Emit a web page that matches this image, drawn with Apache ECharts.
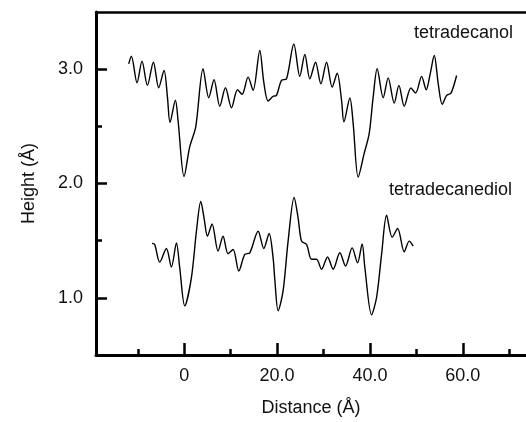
<!DOCTYPE html>
<html>
<head>
<meta charset="utf-8">
<script src="https://cdn.jsdelivr.net/npm/echarts@6/dist/echarts.min.js"></script>
<style>html,body{margin:0;padding:0;background:#fff}#c{width:526px;height:422px}</style>
</head>
<body>
<div id="c"></div>
<script>
// Distance (Å) and Height (Å) for each profile
const tetradecanolX = [-11.96,-11.38,-10.17,-9.09,-7.93,-6.64,-5.50,-4.35,-3.62,-3.06,-1.90,-1.34,-0.04,1.19,2.48,4.05,5.28,6.42,7.65,8.88,10.17,11.47,12.46,13.75,14.83,16.27,17.13,18.06,19.14,19.87,20.95,22.03,23.60,24.89,25.97,27.05,28.28,29.42,30.65,31.85,32.93,33.88,34.38,35.67,36.38,37.46,38.75,39.83,40.69,41.55,42.84,43.92,45.22,46.23,47.37,48.81,49.83,51.12,52.11,52.97,53.84,54.70,55.56,56.51,57.44,58.66];
const tetradecanolY = [3.046,3.113,2.881,3.070,2.858,3.061,2.837,2.989,2.757,2.533,2.728,2.557,2.061,2.322,2.496,3.003,2.750,2.907,2.676,2.837,2.663,2.820,2.780,2.930,2.815,3.163,2.887,2.722,2.763,2.771,2.902,2.916,3.220,2.937,3.128,2.916,3.061,2.872,3.061,2.843,2.965,2.728,2.539,2.748,2.524,2.055,2.263,2.437,2.757,3.003,2.750,2.924,2.704,2.858,2.676,2.835,2.791,2.937,2.820,2.959,3.119,2.872,2.693,2.771,2.791,2.945];
const tetradecanediolX = [-6.94,-6.36,-5.28,-3.84,-2.76,-1.68,-0.97,0.11,1.55,2.63,3.56,4.27,5.00,5.99,7.28,8.36,9.44,10.52,11.75,13.04,14.12,15.91,17.13,18.28,19.14,19.50,20.22,21.29,22.37,23.66,24.53,25.26,26.34,27.41,28.49,29.57,30.86,32.07,33.51,34.74,36.16,37.33,38.32,38.90,40.34,41.42,42.50,43.58,44.78,45.95,47.37,48.45,49.31];
const tetradecanediolY = [1.476,1.467,1.313,1.432,1.270,1.481,1.263,0.930,1.177,1.583,1.843,1.698,1.539,1.646,1.409,1.539,1.385,1.423,1.235,1.380,1.394,1.583,1.432,1.563,1.350,1.163,0.887,1.061,1.496,1.878,1.698,1.496,1.467,1.337,1.337,1.250,1.357,1.250,1.394,1.278,1.437,1.307,1.472,1.263,0.852,1.003,1.380,1.722,1.530,1.606,1.403,1.496,1.452];
const xMajorTicks = [0, 20, 40, 60];
const xMinorTicks = [-10, 10, 30, 50, 70];
const yMajorTicks = [1, 2, 3];
const yMinorTicks = [1.5, 2.5];
const seriesNames = ['tetradecanol', 'tetradecanediol'];

const zip = (xs, ys) => xs.map((x, i) => [x, ys[i]]);
const FONT = 'Liberation Sans, Arial, sans-serif';
const FS = 18;
const XMIN = -19, XMAX = 73.6, YMIN = 0.5, YMAX = 3.5;

const chart = echarts.init(document.getElementById('c'), null, {renderer: 'canvas'});
chart.setOption({
  animation: false,
  backgroundColor: '#fff',
  grid: {left: 96, right: 0, top: 12, bottom: 67, containLabel: false},
  xAxis: [
    {
      type: 'value', min: XMIN, max: XMAX, position: 'bottom',
      name: 'Distance (Å)', nameLocation: 'middle', nameGap: 44,
      nameTextStyle: {fontFamily: FONT, fontSize: FS, color: '#111'},
      axisLine: {show: true, onZero: false, lineStyle: {color: '#000', width: 3}},
      axisTick: {show: true, inside: true, length: 12, customValues: xMajorTicks, lineStyle: {color: '#000', width: 2.5}},
      axisLabel: {show: true, customValues: xMajorTicks, margin: 12, fontFamily: FONT, fontSize: FS, color: '#111',
        formatter: v => v === 0 ? '0' : v.toFixed(1)},
      splitLine: {show: false}
    },
    {
      type: 'value', min: XMIN, max: XMAX, position: 'bottom',
      axisLine: {show: false, onZero: false},
      axisTick: {show: true, inside: true, length: 6, customValues: xMinorTicks, lineStyle: {color: '#000', width: 2.5}},
      axisLabel: {show: false},
      splitLine: {show: false}
    },
    {
      type: 'value', min: XMIN, max: XMAX, position: 'top',
      axisLine: {show: true, onZero: false, lineStyle: {color: '#000', width: 2.5}},
      axisTick: {show: false}, axisLabel: {show: false}, splitLine: {show: false}
    }
  ],
  yAxis: [
    {
      type: 'value', min: YMIN, max: YMAX, interval: 0.5, position: 'left',
      name: 'Height (Å)', nameLocation: 'middle', nameGap: 58, nameRotate: 90,
      nameTextStyle: {fontFamily: FONT, fontSize: FS, color: '#111'},
      axisLine: {show: true, onZero: false, lineStyle: {color: '#000', width: 3}},
      axisTick: {show: true, inside: true, length: 11, customValues: yMajorTicks, lineStyle: {color: '#000', width: 2.5}},
      axisLabel: {show: true, customValues: yMajorTicks, margin: 13, fontFamily: FONT, fontSize: FS, color: '#111',
        formatter: v => v.toFixed(1)},
      splitLine: {show: false}
    },
    {
      type: 'value', min: YMIN, max: YMAX, interval: 0.5, position: 'left', offset: 0,
      axisLine: {show: false, onZero: false},
      axisTick: {show: true, inside: true, length: 6, customValues: yMinorTicks, lineStyle: {color: '#000', width: 2.5}},
      axisLabel: {show: false}, splitLine: {show: false}
    }
  ],
  series: [
    {
      name: seriesNames[0], type: 'line', xAxisIndex: 0, yAxisIndex: 0,
      data: zip(tetradecanolX, tetradecanolY), showSymbol: false, smooth: 0.3,
      lineStyle: {color: '#000', width: 1.4}
    },
    {
      name: seriesNames[1], type: 'line', xAxisIndex: 0, yAxisIndex: 0,
      data: zip(tetradecanediolX, tetradecanediolY), showSymbol: false, smooth: 0.3,
      lineStyle: {color: '#000', width: 1.4}
    }
  ],
  graphic: [
    {type: 'text', left: 414, top: 24, style: {text: seriesNames[0], font: FS + 'px ' + FONT, fill: '#111'}},
    {type: 'text', left: 389, top: 181, style: {text: seriesNames[1], font: FS + 'px ' + FONT, fill: '#111'}}
  ]
});
</script>
</body>
</html>
